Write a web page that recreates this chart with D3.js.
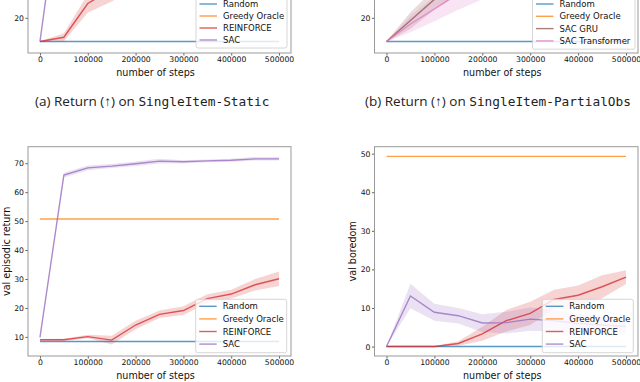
<!DOCTYPE html>
<html><head><meta charset="utf-8">
<script src="https://cdn.jsdelivr.net/npm/d3@7"></script>
<style>
body{margin:0;background:#fff;}
svg{display:block;}
text{font-family:"DejaVu Sans",sans-serif;}
</style></head>
<body><svg id="chart" width="640" height="382"></svg>
<script>
// ---------------- data ----------------
const steps = [0,50000,100000,150000,200000,250000,300000,350000,400000,450000,500000];
const xTicks = [0,100000,200000,300000,400000,500000];

// (a) SingleItem-Static
const randomA    = [8.4,8.4,8.4,8.4,8.4,8.4,8.4,8.4,8.4,8.4,8.4];
const greedyA    = [50.7,50.7,50.7,50.7,50.7,50.7,50.7,50.7,50.7,50.7,50.7];
const reinforceA = [8.4,10.5,27,34,40,45,48,51,53,55,56];
const reinforceAsd = [0.2,2,4.5,6,6,5,5,5,5,5,5];
const sacA       = [8.4,94,97,98,99,99,99.5,99.5,99.5,99.5,99.5];
const sacAsd     = [0.2,1.5,1,1,1,1,1,1,1,1,1];
const yTicksA    = [20,40,60,80,100];

// (b) SingleItem-PartialObs
const randomB    = [8.4,8.4,8.4,8.4,8.4,8.4,8.4,8.4,8.4,8.4,8.4];
const greedyB    = [50.7,50.7,50.7,50.7,50.7,50.7,50.7,50.7,50.7,50.7,50.7];
const gruB       = [8.4,18.7,29,36,42,46,49,51,53,54,55];
const gruBsd     = [0.2,4,5,5,5,5,5,5,5,5,5];
const transB     = [8.4,17,24.3,32,38,43,46,49,51,52,53];
const transBsd   = [0.2,4,6,8,9,8,7,6,6,6,6];
const yTicksB    = [20,40,60,80,100];

// (c) val episodic return
const randomC    = [8.4,8.4,8.4,8.4,8.4,8.4,8.4,8.4,8.4,8.4,8.4];
const greedyC    = [50.7,50.7,50.7,50.7,50.7,50.7,50.7,50.7,50.7,50.7,50.7];
const reinforceC = [9.0,9.0,10.1,8.9,14.1,17.8,19.1,23.2,24.8,28.0,30.1];
const reinforceCsd = [0.3,0.4,0.6,1.5,1.5,1.3,1.5,1.5,1.5,2.0,2.5];
const sacC       = [9.8,65.9,68.4,69.0,69.8,70.7,70.5,70.8,71.0,71.5,71.5];
const sacCsd     = [0.3,0.8,0.8,0.7,0.8,0.8,0.5,0.5,0.5,0.6,0.6];
const yTicksC    = [10,20,30,40,50,60,70];

// (d) val boredom
const randomD    = [0,0,0,0,0,0,0,0,0,0,0];
const greedyD    = [49.3,49.3,49.3,49.3,49.3,49.3,49.3,49.3,49.3,49.3,49.3];
const reinforceD = [0,0,0,0.8,3.3,6.7,8.6,12.2,13.3,15.5,18.0];
const reinforceDsd = [0,0,0,0.6,1.8,2.8,3,2.5,2.5,3,1.8];
const sacD       = [0,13.1,8.9,8.0,6.1,6.2,7.1,6.7,6.0,5.6,5.2];
const sacDsd     = [0,3.2,2.2,2.0,2.3,2.8,3.0,2.8,2.5,2.2,2.0];
const yTicksD    = [0,10,20,30,40,50];

// ---------------- style ----------------
const C = {random:"#1f77b4", greedy:"#ff7f0e", reinforce:"#d62728", sac:"#9467bd", gru:"#8c564b", trans:"#e377c2"};

const panels = [
  {box:{l:28,r:291,t:-156,b:53}, yDom:[2.8,105], yTicks:yTicksA, ylabel:null,
   series:[{n:"Random",v:randomA,c:C.random},{n:"Greedy Oracle",v:greedyA,c:C.greedy},
           {n:"REINFORCE",v:reinforceA,sd:reinforceAsd,c:C.reinforce},{n:"SAC",v:sacA,sd:sacAsd,c:C.sac}],
   legend:{x:196,y:-3,w:91,row:12},
   caption:{x:35,y:106,lab:"(a) Return (↑) on ",mono:"SingleItem-Static"}},
  {box:{l:374.5,r:638,t:-156,b:53}, yDom:[2.8,105], yTicks:yTicksB, ylabel:null,
   series:[{n:"Random",v:randomB,c:C.random},{n:"Greedy Oracle",v:greedyB,c:C.greedy},
           {n:"SAC GRU",v:gruB,sd:gruBsd,c:C.gru},{n:"SAC Transformer",v:transB,sd:transBsd,c:C.trans}],
   legend:{x:532.5,y:-3,w:102.5,row:12.3},
   caption:{x:365,y:106,lab:"(b) Return (↑) on ",mono:"SingleItem-PartialObs"}},
  {box:{l:28,r:291,t:146.7,b:356}, yDom:[3.4,75.7], yTicks:yTicksC, ylabel:"val episodic return", ylx:6,
   series:[{n:"Random",v:randomC,c:C.random},{n:"Greedy Oracle",v:greedyC,c:C.greedy},
           {n:"REINFORCE",v:reinforceC,sd:reinforceCsd,c:C.reinforce},{n:"SAC",v:sacC,sd:sacCsd,c:C.sac}],
   legend:{x:195.7,y:299.3,w:91,row:12.6}},
  {box:{l:374.5,r:638,t:146.7,b:356}, yDom:[-2.45,51.8], yTicks:yTicksD, ylabel:"val boredom", ylx:352,
   series:[{n:"Random",v:randomD,c:C.random},{n:"Greedy Oracle",v:greedyD,c:C.greedy},
           {n:"REINFORCE",v:reinforceD,sd:reinforceDsd,c:C.reinforce},{n:"SAC",v:sacD,sd:sacDsd,c:C.sac}],
   legend:{x:542.3,y:299.3,w:91,row:12.6}}
];

const svg = d3.select("#chart");
panels.forEach((p,i)=>{
  const b=p.box;
  const x=d3.scaleLinear().domain([-25000,525000]).range([b.l,b.r]);
  const y=d3.scaleLinear().domain(p.yDom).range([b.b,b.t]);
  const g=svg.append("g");
  const cid="clip"+i;
  g.append("clipPath").attr("id",cid).append("rect")
    .attr("x",b.l).attr("y",b.t).attr("width",b.r-b.l).attr("height",b.b-b.t);
  const plot=g.append("g").attr("clip-path",`url(#${cid})`);
  // bands
  p.series.forEach(s=>{
    if(!s.sd) return;
    const area=d3.area().x((d,k)=>x(steps[k])).y0((d,k)=>y(d-s.sd[k])).y1((d,k)=>y(d+s.sd[k]));
    plot.append("path").attr("d",area(s.v)).attr("fill",s.c).attr("fill-opacity",0.2).attr("stroke","none");
  });
  // lines
  p.series.forEach(s=>{
    const line=d3.line().x((d,k)=>x(steps[k])).y(d=>y(d));
    plot.append("path").attr("d",line(s.v)).attr("fill","none").attr("stroke",s.c)
      .attr("stroke-opacity",0.75).attr("stroke-width",1.4);
  });
  // axes
  const xa=g.append("g").attr("transform",`translate(0,${b.b})`)
    .call(d3.axisBottom(x).tickValues(xTicks).tickFormat(d3.format("d")).tickSize(2.5).tickPadding(1.5));
  const ya=g.append("g").attr("transform",`translate(${b.l},0)`)
    .call(d3.axisLeft(y).tickValues(p.yTicks).tickFormat(d3.format("d")).tickSize(2.5).tickPadding(1.5));
  [xa,ya].forEach(a=>{
    a.select(".domain").remove();
    a.selectAll(".tick line").attr("stroke","#333").attr("stroke-width",0.8);
    a.selectAll(".tick text").attr("fill","#111").style("font-size","7.7px").style("font-family","DejaVu Sans");
  });
  ya.selectAll(".tick").filter(d=>y(d)<Math.max(b.t,4)||y(d)>b.b+1).remove();
  // frame
  g.append("rect").attr("x",b.l).attr("y",b.t).attr("width",b.r-b.l).attr("height",b.b-b.t)
    .attr("fill","none").attr("stroke","#999").attr("stroke-width",1);
  // labels
  g.append("text").attr("x",(b.l+b.r)/2-4).attr("y",b.b+23).attr("text-anchor","middle")
    .style("font-size","9.6px").attr("fill","#111").text("number of steps");
  if(p.ylabel){
    g.append("text").attr("transform",`translate(${p.ylx},${(b.t+b.b)/2}) rotate(-90)`)
      .attr("text-anchor","middle").attr("dominant-baseline","central")
      .style("font-size","9.6px").attr("fill","#111").text(p.ylabel);
  }
  // legend
  const L=p.legend;
  const lg=g.append("g");
  lg.append("rect").attr("x",L.x).attr("y",L.y).attr("width",L.w).attr("height",L.row*4+3)
    .attr("rx",2).attr("fill","#fff").attr("fill-opacity",0.8).attr("stroke","#ccc").attr("stroke-width",0.8);
  p.series.forEach((s,k)=>{
    const yy=L.y+7+k*L.row;
    lg.append("line").attr("x1",L.x+3.5).attr("x2",L.x+21).attr("y1",yy).attr("y2",yy)
      .attr("stroke",s.c).attr("stroke-opacity",0.75).attr("stroke-width",1.4);
    lg.append("text").attr("x",L.x+27).attr("y",yy).attr("dominant-baseline","central")
      .style("font-size","8.5px").attr("fill","#111").text(s.n);
  });
  // caption
  if(p.caption){
    const t=svg.append("text").attr("x",p.caption.x).attr("y",p.caption.y).attr("fill","#222")
      .style("font-family","Open Sans").style("font-size","13.5px");
    t.append("tspan").text(p.caption.lab);
    t.append("tspan").style("font-family","DejaVu Sans Mono").style("font-size","12.8px").text(p.caption.mono);
  }
});
</script></body></html>
